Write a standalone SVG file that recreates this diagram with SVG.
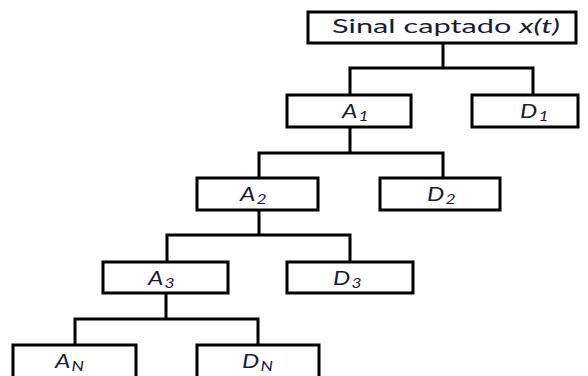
<svg xmlns="http://www.w3.org/2000/svg" width="588" height="376" viewBox="0 0 588 376">
  <style>
    .box { fill: #ffffff; stroke: #000000; stroke-width: 3; }
    .wire { fill: none; stroke: #000000; stroke-width: 3; stroke-linecap: square; }
    .lbl { font-family: Lato, "Liberation Sans", sans-serif; font-size: 19.5px; fill: #1c1c30; }
    .it { font-style: italic; }
    .sub { font-size: 14px; font-style: italic; }
  </style>
  <rect width="588" height="376" fill="#ffffff"/>

  <!-- tree connectors -->
  <g id="connectors">
    <path class="wire" d="M443 43 V68 M350 68 H533 M350 68 V95 M533 68 V95"/>
    <path class="wire" d="M350 127 V153 M259 153 H443 M259 153 V178 M443 153 V178"/>
    <path class="wire" d="M259 210 V235 M167 235 H350 M167 235 V262 M350 235 V262"/>
    <path class="wire" d="M166 293 V319 M75 319 H258 M75 319 V345 M258 319 V345"/>
  </g>

  <g id="root">
    <rect class="box" x="308" y="12" width="268" height="31"/>
    <text class="lbl" x="332" y="33" textLength="228" lengthAdjust="spacingAndGlyphs">Sinal captado <tspan class="it">x(t)</tspan></text>
  </g>

  <g id="A1">
    <rect class="box" x="287" y="95" width="124" height="32"/>
    <text class="lbl it" transform="translate(342 118) scale(1.25 1)">A<tspan class="sub" dx="1" dy="3">1</tspan></text>
  </g>
  <g id="D1">
    <rect class="box" x="472" y="95" width="106" height="32"/>
    <text class="lbl it" transform="translate(520 118) scale(1.25 1)">D<tspan class="sub" dx="1" dy="3">1</tspan></text>
  </g>

  <g id="A2">
    <rect class="box" x="197" y="178" width="121" height="32"/>
    <text class="lbl it" transform="translate(240 201) scale(1.25 1)">A<tspan class="sub" dx="1" dy="3">2</tspan></text>
  </g>
  <g id="D2">
    <rect class="box" x="380" y="178" width="120" height="32"/>
    <text class="lbl it" transform="translate(427 201) scale(1.25 1)">D<tspan class="sub" dx="1" dy="3">2</tspan></text>
  </g>

  <g id="A3">
    <rect class="box" x="103" y="262" width="125" height="31"/>
    <text class="lbl it" transform="translate(148 285) scale(1.25 1)">A<tspan class="sub" dx="1" dy="3">3</tspan></text>
  </g>
  <g id="D3">
    <rect class="box" x="287" y="262" width="126" height="31"/>
    <text class="lbl it" transform="translate(333 285) scale(1.25 1)">D<tspan class="sub" dx="1" dy="3">3</tspan></text>
  </g>

  <g id="AN">
    <rect class="box" x="13" y="345" width="123" height="40"/>
    <text class="lbl it" transform="translate(55 368) scale(1.25 1)">A<tspan class="sub" dx="1" dy="3">N</tspan></text>
  </g>
  <g id="DN">
    <rect class="box" x="197" y="345" width="122" height="40"/>
    <text class="lbl it" transform="translate(242 368) scale(1.25 1)">D<tspan class="sub" dx="1" dy="3">N</tspan></text>
  </g>
</svg>
